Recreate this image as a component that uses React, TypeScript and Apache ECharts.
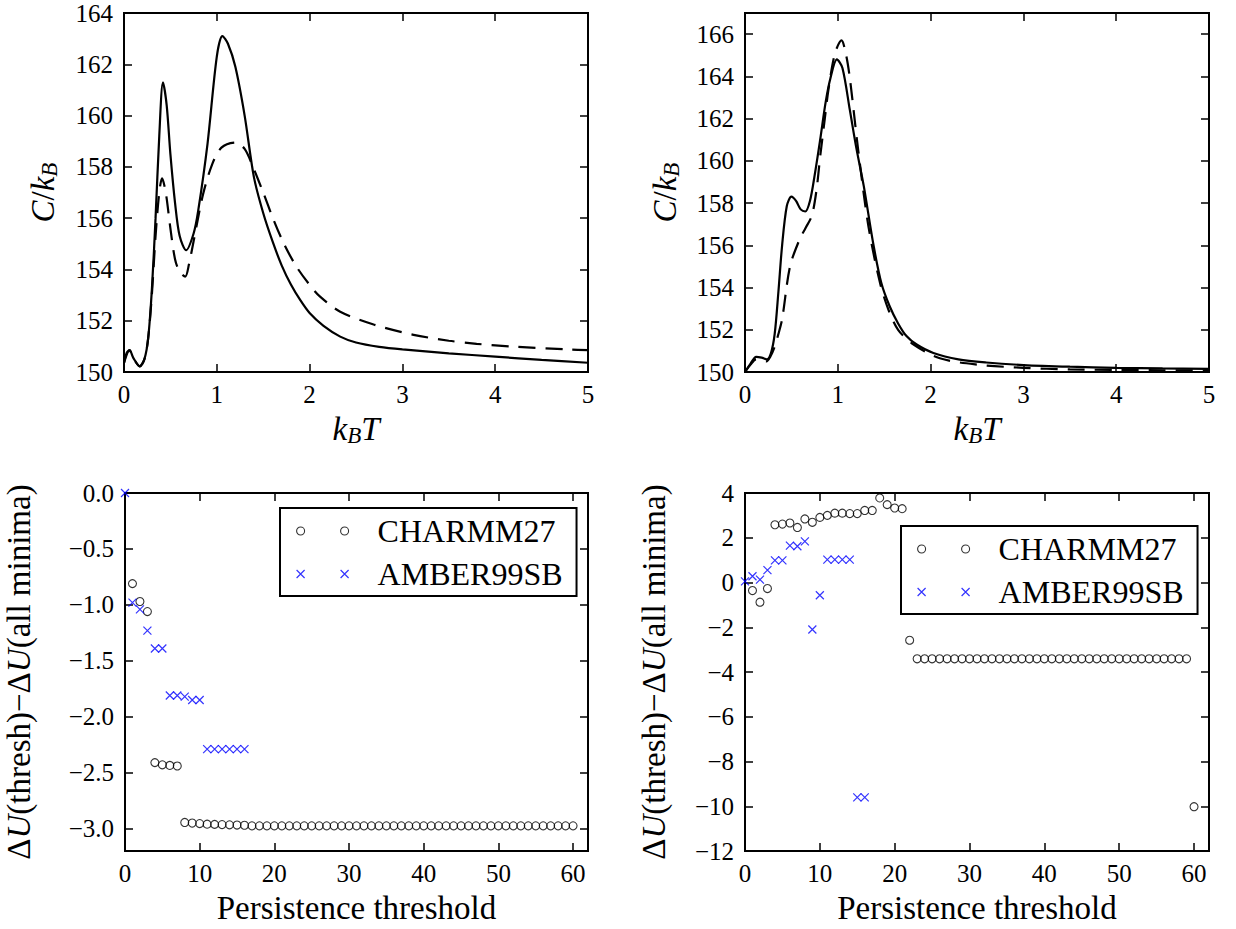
import React, { useEffect, useRef } from 'react';
import * as echarts from 'echarts';

const F = 'Liberation Serif';
const TICK_FONT = '25px "Liberation Serif", "Times New Roman", serif';

// Top-left: heat capacity
const tlSolidT = [0.0, 0.03, 0.06, 0.1, 0.17, 0.22, 0.26, 0.3, 0.34, 0.38, 0.42, 0.46, 0.5, 0.55, 0.6, 0.67, 0.75, 0.8, 0.9, 1.0, 1.06, 1.12, 1.2, 1.3, 1.4, 1.5, 1.6, 1.7, 1.8, 1.9, 2.0, 2.15, 2.33, 2.5, 2.75, 3.0, 3.5, 4.0, 4.5, 5.0];
const tlSolidC = [150.35, 150.75, 150.85, 150.55, 150.22, 150.5, 151.3, 153.2, 156.0, 159.2, 161.3, 160.4, 158.5, 156.6, 155.3, 154.75, 155.4, 156.3, 158.9, 162.3, 163.1, 162.8, 161.9, 160.0, 157.6, 156.2, 155.1, 154.15, 153.4, 152.8, 152.3, 151.8, 151.38, 151.15, 150.98, 150.88, 150.73, 150.6, 150.47, 150.36];
const tlDashT = [0.0, 0.06, 0.1, 0.17, 0.22, 0.26, 0.3, 0.34, 0.38, 0.41, 0.45, 0.5, 0.55, 0.6, 0.66, 0.7, 0.75, 0.85, 0.95, 1.05, 1.2, 1.3, 1.39, 1.5, 1.61, 1.73, 1.86, 2.0, 2.11, 2.33, 2.69, 3.12, 3.5, 3.8, 4.2, 4.8, 5.0];
const tlDashC = [150.35, 150.85, 150.55, 150.22, 150.5, 151.3, 153.0, 155.3, 157.0, 157.55, 157.0, 155.6, 154.4, 153.9, 153.72, 154.2, 155.1, 156.9, 158.1, 158.75, 158.95, 158.7, 158.0, 157.0, 155.95, 154.95, 154.1, 153.4, 152.95, 152.35, 151.85, 151.45, 151.22, 151.1, 150.99, 150.88, 150.85];

// Top-right: heat capacity
const trSolidT = [0.0, 0.06, 0.12, 0.18, 0.235, 0.28, 0.32, 0.36, 0.4, 0.45, 0.5, 0.55, 0.6, 0.65, 0.7, 0.75, 0.81, 0.87, 0.92, 0.99, 1.05, 1.13, 1.2, 1.28, 1.385, 1.47, 1.56, 1.65, 1.74, 1.85, 2.03, 2.3, 2.6, 3.0, 3.5, 4.0, 4.5, 5.0];
const trSolidC = [150.0, 150.4, 150.72, 150.68, 150.6, 150.9, 151.8, 153.8, 156.0, 157.85, 158.3, 158.1, 157.7, 157.6, 158.1, 159.3, 161.0, 162.8, 163.9, 164.8, 164.4, 162.4, 160.6, 158.8, 156.0, 154.2, 153.1, 152.3, 151.7, 151.3, 150.9, 150.6, 150.45, 150.33, 150.25, 150.2, 150.17, 150.15];
const trDashT = [0.0, 0.06, 0.12, 0.18, 0.23, 0.27, 0.32, 0.36, 0.4, 0.485, 0.59, 0.65, 0.72, 0.77, 0.81, 0.86, 0.9, 0.97, 1.04, 1.09, 1.133, 1.22, 1.33, 1.456, 1.55, 1.65, 1.8, 2.1, 2.5, 3.0, 3.5, 4.0, 4.5, 5.0];
const trDashC = [150.0, 150.35, 150.6, 150.55, 150.5, 150.7, 151.2, 151.8, 152.5, 155.0, 156.3, 156.8, 157.4, 158.6, 160.2, 162.0, 163.4, 165.1, 165.7, 165.0, 163.8, 160.5, 156.9, 154.2, 152.9, 152.0, 151.35, 150.65, 150.35, 150.2, 150.12, 150.1, 150.08, 150.07];

// Persistence thresholds
const thresholds = [0, 1, 2, 3, 4, 5, 6, 7, 8, 9, 10, 11, 12, 13, 14, 15, 16, 17, 18, 19, 20, 21, 22, 23, 24, 25, 26, 27, 28, 29, 30, 31, 32, 33, 34, 35, 36, 37, 38, 39, 40, 41, 42, 43, 44, 45, 46, 47, 48, 49, 50, 51, 52, 53, 54, 55, 56, 57, 58, 59, 60];

// Bottom-left (thresholds 1..60 for CHARMM27, 0..16 for AMBER99SB)
const blCharmm = [-0.81, -0.97, -1.06, -2.41, -2.43, -2.435, -2.44, -2.945, -2.95, -2.955, -2.96, -2.962, -2.964, -2.966, -2.968, -2.97,
  -2.975, -2.975, -2.975, -2.975, -2.975, -2.975, -2.975, -2.975, -2.975, -2.975, -2.975,
  -2.975, -2.975, -2.975, -2.975, -2.975, -2.975, -2.975, -2.975, -2.975, -2.975, -2.975,
  -2.975, -2.975, -2.975, -2.975, -2.975, -2.975, -2.975, -2.975, -2.975, -2.975, -2.975,
  -2.975, -2.975, -2.975, -2.975, -2.975, -2.975, -2.975, -2.975, -2.975, -2.975, -2.975];
const blAmber = [0, -0.98, -1.04, -1.23, -1.39, -1.39, -1.81, -1.81, -1.82, -1.85, -1.85, -2.29, -2.29, -2.29, -2.29, -2.29, -2.29];

// Bottom-right
const brCharmm = [-0.36, -0.88, -0.27, 2.58, 2.61, 2.66, 2.46, 2.84, 2.69, 2.91, 3.0, 3.1, 3.1, 3.08, 3.08, 3.22, 3.22, 3.78, 3.48, 3.33, 3.3, -2.58,
  -3.41, -3.41, -3.41, -3.41, -3.41, -3.41, -3.41, -3.41, -3.41, -3.41,
  -3.41, -3.41, -3.41, -3.41, -3.41, -3.41, -3.41, -3.41, -3.41, -3.41,
  -3.41, -3.41, -3.41, -3.41, -3.41, -3.41, -3.41, -3.41, -3.41, -3.41,
  -3.41, -3.41, -3.41, -3.41, -3.41, -3.41, -3.41,
  -10.02];
const brAmber = [0.05, 0.28, 0.13, 0.55, 0.99, 0.99, 1.65, 1.62, 1.84, -2.1, -0.57, 1.02, 1.02, 1.02, 1.02, -9.6, -9.6];

// Tick values and their labels
const ktTicks = [0, 1, 2, 3, 4, 5];
const tlYTicks = [150, 152, 154, 156, 158, 160, 162, 164];
const trYTicks = [150, 152, 154, 156, 158, 160, 162, 164, 166];
const thrTicks = [0, 10, 20, 30, 40, 50, 60];
const blYTicks = [0, -0.5, -1.0, -1.5, -2.0, -2.5, -3.0];
const brYTicks = [4, 2, 0, -2, -4, -6, -8, -10, -12];

const zip = (xs: number[], ys: number[]) => ys.map((y, i) => [xs[i], y]);
const minus = (s: string) => s.replace('-', '\u2212');

const grids = [
  { left: 124, top: 13, width: 464, height: 359 },
  { left: 745, top: 13, width: 464, height: 359 },
  { left: 125, top: 493, width: 463, height: 358 },
  { left: 745, top: 493, width: 464, height: 358 },
];

// per panel: x range, y range, tick lists, decimals of y labels
const panels = [
  { xMin: 0, xMax: 5, yMin: 150, yMax: 164, xTicks: ktTicks, yTicks: tlYTicks, yDec: 0 },
  { xMin: 0, xMax: 5, yMin: 150, yMax: 167, xTicks: ktTicks, yTicks: trYTicks, yDec: 0 },
  { xMin: 0, xMax: 62, yMin: -3.2, yMax: 0, xTicks: thrTicks, yTicks: blYTicks, yDec: 1 },
  { xMin: 0, xMax: 62, yMin: -12, yMax: 4, xTicks: thrTicks, yTicks: brYTicks, yDec: 0 },
];

const NS = 33;
const rich = {
  i: { fontFamily: F, fontStyle: 'italic', fontSize: NS, color: '#000' },
  r: { fontFamily: F, fontStyle: 'normal', fontSize: NS, color: '#000' },
  s: { fontFamily: F, fontStyle: 'italic', fontSize: 23, color: '#000', padding: [14, 0, 0, 0] },
};

const tick = (vals: number[]) => ({ inside: true, length: 8, lineStyle: { color: '#000', width: 1.5 }, customValues: vals });

function mainX(g: number, name: string, gap: number) {
  const p = panels[g];
  return {
    type: 'value', gridIndex: g, position: 'bottom', min: p.xMin, max: p.xMax,
    axisLine: { show: false, onZero: false }, splitLine: { show: false },
    axisTick: tick(p.xTicks), axisLabel: { show: false },
    name, nameLocation: 'middle', nameGap: gap,
    nameTextStyle: { fontFamily: F, fontSize: NS, color: '#000', rich },
  };
}
function mainY(g: number, name: string, gap: number) {
  const p = panels[g];
  return {
    type: 'value', gridIndex: g, position: 'left', min: p.yMin, max: p.yMax,
    axisLine: { show: false, onZero: false }, splitLine: { show: false },
    axisTick: tick(p.yTicks), axisLabel: { show: false },
    name, nameLocation: 'middle', nameGap: gap, nameRotate: 90,
    nameTextStyle: { fontFamily: F, fontSize: NS, color: '#000', rich },
  };
}
function sideX(g: number) {
  const p = panels[g];
  return { type: 'value', gridIndex: g, position: 'top', min: p.xMin, max: p.xMax, axisLine: { show: false, onZero: false }, splitLine: { show: false }, axisTick: tick(p.xTicks), axisLabel: { show: false } };
}
function sideY(g: number) {
  const p = panels[g];
  return { type: 'value', gridIndex: g, position: 'right', min: p.yMin, max: p.yMax, axisLine: { show: false, onZero: false }, splitLine: { show: false }, axisTick: tick(p.yTicks), axisLabel: { show: false } };
}

const kbtName = '{i|k}{s|B}{i|T}';
const cName = '{i|C}{r|/}{i|k}{s|B}';
const duName = '{r|\u0394}{i|U}{r|(thresh)\u2212\u0394}{i|U}{r|(all minima)}';
const ptName = '{r|Persistence threshold}';

const circleSym = 'circle';
const crossSym = 'path://M0,0L8,8M8,0L0,8';
const circle2 = 'path://M0,4A4,4,0,1,1,8,4A4,4,0,1,1,0,4ZM44,4A4,4,0,1,1,52,4A4,4,0,1,1,44,4Z';
const cross2 = 'path://M0,0L8,8M8,0L0,8M44,0L52,8M52,0L44,8';

const circleStyle = { color: 'rgba(0,0,0,0)', borderColor: '#000', borderWidth: 1.1 };
const crossStyle = { color: 'rgba(0,0,0,0)', borderColor: '#0000ff', borderWidth: 1.2 };

function lineSeries(g: number, xs: number[], ys: number[], dashed: boolean) {
  return {
    type: 'line', xAxisIndex: g, yAxisIndex: g, data: zip(xs, ys), symbol: 'none', showSymbol: false,
    smooth: 0.3, lineStyle: { color: '#000', width: 2.2, type: dashed ? [17, 10] : 'solid' }, silent: true,
  };
}

function legendFor(left: number, top: number) {
  return {
    left, top, orient: 'vertical', itemGap: 7, itemWidth: 52, itemHeight: 8,
    padding: [5, 14, 4, 16], borderColor: '#000', borderWidth: 2, backgroundColor: '#fff', borderRadius: 0,
    selectedMode: false,
    textStyle: { fontFamily: F, fontSize: 32, color: '#000', padding: [0, 0, 0, 24], lineHeight: 36 },
    data: [
      { name: 'CHARMM27', icon: circle2, itemStyle: circleStyle },
      { name: 'AMBER99SB', icon: cross2, itemStyle: crossStyle },
    ],
  };
}

const option = {
  animation: false,
  backgroundColor: '#fff',
  textStyle: { fontFamily: F, color: '#000' },
  grid: grids.map(g => ({ ...g, show: true, borderColor: '#000', borderWidth: 2, backgroundColor: 'rgba(0,0,0,0)', containLabel: false })),
  xAxis: [
    mainX(0, kbtName, 38), mainX(1, kbtName, 38), mainX(2, ptName, 40), mainX(3, ptName, 40),
    sideX(0), sideX(1), sideX(2), sideX(3),
  ],
  yAxis: [
    mainY(0, cName, 63), mainY(1, cName, 62), mainY(2, duName, 90), mainY(3, duName, 75),
    sideY(0), sideY(1), sideY(2), sideY(3),
  ],
  legend: [legendFor(280, 508), legendFor(901, 526)],
  series: [
    lineSeries(0, tlSolidT, tlSolidC, false),
    lineSeries(0, tlDashT, tlDashC, true),
    lineSeries(1, trSolidT, trSolidC, false),
    lineSeries(1, trDashT, trDashC, true),
    { name: 'CHARMM27', type: 'scatter', xAxisIndex: 2, yAxisIndex: 2, data: zip(thresholds.slice(1), blCharmm), symbol: circleSym, symbolSize: 8, itemStyle: circleStyle, silent: true },
    { name: 'AMBER99SB', type: 'scatter', xAxisIndex: 2, yAxisIndex: 2, data: zip(thresholds, blAmber), symbol: crossSym, symbolSize: 8, itemStyle: crossStyle, silent: true },
    { name: 'CHARMM27', type: 'scatter', xAxisIndex: 3, yAxisIndex: 3, data: zip(thresholds.slice(1), brCharmm), symbol: circleSym, symbolSize: 8, itemStyle: circleStyle, silent: true },
    { name: 'AMBER99SB', type: 'scatter', xAxisIndex: 3, yAxisIndex: 3, data: zip(thresholds, brAmber), symbol: crossSym, symbolSize: 8, itemStyle: crossStyle, silent: true },
  ],
};

// Tick labels placed through the axes' own scales (convertToPixel)
function tickLabelGraphics(chart: any) {
  const out: any[] = [];
  panels.forEach((p, g) => {
    const bottom = chart.convertToPixel({ yAxisIndex: g }, p.yMin);
    const left = chart.convertToPixel({ xAxisIndex: g }, p.xMin);
    p.xTicks.forEach(v => {
      out.push({
        type: 'text', x: chart.convertToPixel({ xAxisIndex: g }, v), y: bottom + 22, silent: true,
        style: { text: minus(String(v)), font: TICK_FONT, fill: '#000', align: 'center', verticalAlign: 'middle' },
      });
    });
    p.yTicks.forEach(v => {
      out.push({
        type: 'text', x: left - 11, y: chart.convertToPixel({ yAxisIndex: g }, v), silent: true,
        style: { text: minus(p.yDec > 0 ? v.toFixed(p.yDec) : String(v)), font: TICK_FONT, fill: '#000', align: 'right', verticalAlign: 'middle' },
      });
    });
  });
  return out;
}

export default function App() {
  const ref = useRef<HTMLDivElement>(null);
  useEffect(() => {
    const chart = echarts.init(ref.current as HTMLDivElement, null, { renderer: 'svg' });
    chart.setOption(option as any);
    chart.setOption({ graphic: tickLabelGraphics(chart) } as any);
    return () => chart.dispose();
  }, []);
  return <div ref={ref} style={{ position: 'absolute', left: 0, top: 0, width: 1236, height: 929, background: '#fff' }} />;
}
